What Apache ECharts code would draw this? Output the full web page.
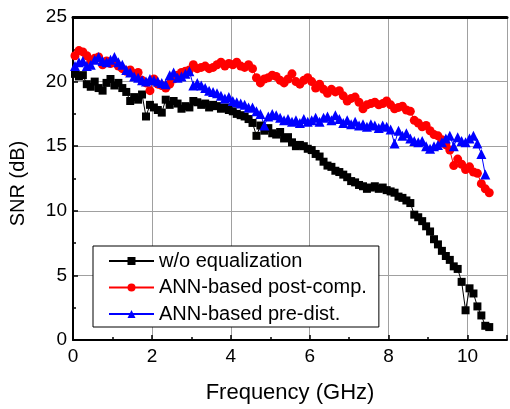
<!DOCTYPE html>
<html>
<head>
<meta charset="utf-8">
<script src="https://cdn.jsdelivr.net/npm/echarts@6/dist/echarts.min.js"></script>
<style>html,body{margin:0;padding:0;background:#fff}#c{width:510px;height:409px}</style>
</head>
<body>
<div id="c"></div>
<script>
const freq = [0.05,0.15,0.25,0.35,0.45,0.55,0.65,0.75,0.85,0.95,
1.05,1.15,1.25,1.35,1.45,1.55,1.65,1.75,1.85,1.95,
2.05,2.15,2.25,2.35,2.45,2.55,2.65,2.75,2.85,2.95,
3.05,3.15,3.25,3.35,3.45,3.55,3.65,3.75,3.85,3.95,
4.05,4.15,4.25,4.35,4.45,4.55,4.65,4.75,4.85,4.95,
5.05,5.15,5.25,5.35,5.45,5.55,5.65,5.75,5.85,5.95,
6.05,6.15,6.25,6.35,6.45,6.55,6.65,6.75,6.85,6.95,
7.05,7.15,7.25,7.35,7.45,7.55,7.65,7.75,7.85,7.95,
8.05,8.15,8.25,8.35,8.45,8.55,8.65,8.75,8.85,8.95,
9.05,9.15,9.25,9.35,9.45,9.55,9.65,9.75,9.85,9.95,
10.05,10.15,10.25,10.35,10.45,10.55];

const woEq = [20.6,20.4,20.5,19.8,19.6,20.0,19.5,19.3,19.9,20.2,
19.7,19.9,19.5,19.2,18.5,18.8,18.6,19.0,17.3,18.2,
18.0,17.8,17.6,18.6,18.2,18.5,18.3,17.9,18.1,18.0,
18.5,18.4,18.2,18.3,18.0,18.2,18.1,17.9,18.0,17.8,
17.7,17.5,17.4,17.3,17.1,16.8,15.8,16.6,16.2,16.4,
16.0,15.9,16.1,15.6,15.7,15.3,15.0,15.1,15.0,14.8,
14.7,14.4,14.2,13.8,13.5,13.4,13.1,13.0,12.8,12.6,
12.3,12.2,12.0,11.9,11.7,11.8,11.9,11.7,11.8,11.6,
11.5,11.4,11.1,11.0,10.8,10.6,9.7,9.5,9.2,8.8,
8.4,7.8,7.4,6.9,6.5,6.2,5.7,5.5,4.5,2.3,
4.0,3.6,2.6,1.9,1.1,1.0];

const postComp = [22.0,22.4,22.3,22.0,21.6,21.8,21.9,21.3,21.6,21.4,
21.5,21.2,21.0,20.8,20.9,20.6,20.7,20.1,19.9,19.3,
20.2,19.8,19.7,19.5,19.8,20.2,20.5,20.7,20.8,20.9,
21.3,21.0,21.1,21.2,21.0,21.1,21.3,21.5,21.2,21.4,
21.3,21.5,21.2,21.1,21.3,21.0,20.3,19.9,20.2,20.3,
20.5,20.4,20.1,19.9,20.2,20.6,20.0,19.8,20.1,20.3,
20.0,19.5,19.8,19.4,19.1,19.4,19.2,19.3,18.9,18.5,
18.7,18.8,18.4,17.9,18.2,18.3,18.4,18.2,18.3,18.5,
18.2,17.9,18.0,18.1,17.8,17.7,17.0,16.8,16.5,16.6,
16.2,15.9,15.8,15.5,15.1,14.7,13.5,14.0,13.6,13.2,
13.4,13.0,12.9,12.1,11.7,11.4];

const preDist = [21.2,21.5,21.6,21.2,21.3,21.7,21.9,21.6,21.5,21.7,
21.9,21.5,21.3,20.9,20.7,20.4,20.3,20.1,20.0,20.2,
20.1,20.0,19.9,19.8,20.5,20.7,20.3,20.4,20.6,20.8,
19.7,19.9,19.7,19.5,19.3,19.2,19.1,18.9,18.7,18.8,
18.5,18.4,18.3,18.2,18.0,18.0,17.7,17.5,16.6,17.3,
17.5,17.4,17.2,17.0,17.1,16.9,17.0,16.8,17.1,16.9,
17.0,17.2,16.9,17.2,17.3,17.0,17.4,17.1,16.8,17.0,
16.7,16.9,16.6,16.7,16.5,16.7,16.6,16.4,16.6,16.5,
16.3,15.2,16.2,15.8,16.0,15.6,15.4,15.3,15.4,15.0,
14.8,15.0,15.1,15.3,15.6,15.8,15.0,15.7,15.4,15.3,
15.6,15.8,15.2,14.4,12.8];

const seriesNames = ['w/o equalization','ANN-based post-comp.','ANN-based pre-dist.'];
const xTicks = [0,2,4,6,8,10];
const yTicks = [0,5,10,15,20,25];

const pairs = (ys) => ys.map((v,i) => [freq[i], v]);
const FONT = "'Liberation Sans', Arial, sans-serif";

const chart = echarts.init(document.getElementById('c'), null, {renderer:'canvas'});
chart.setOption({
  animation:false,
  backgroundColor:'#fff',
  textStyle:{fontFamily:FONT},
  grid:{left:72, top:17, width:440, height:324.5, containLabel:false},
  legend:{
    orient:'vertical', left:93, top:246,
    padding:[4,12,2,15], itemGap:4.5,
    itemWidth:45, itemHeight:10,
    borderColor:'#000', borderWidth:1, backgroundColor:'#fff',
    textStyle:{fontFamily:FONT, fontSize:20, color:'#000', lineHeight:22},
    data:seriesNames
  },
  xAxis:[{
    type:'value', min:0, max:11, interval:2,
    name:'Frequency (GHz)', nameLocation:'middle', nameGap:42,
    nameTextStyle:{fontFamily:FONT, fontSize:22, color:'#000'},
    axisLine:{show:true, lineStyle:{color:'#000', width:2}},
    axisTick:{show:true, inside:true, length:5, lineStyle:{color:'#000', width:1.5}},
    minorTick:{show:true, splitNumber:2, length:3, lineStyle:{color:'#000', width:1.5}},
    axisLabel:{fontFamily:FONT, fontSize:19, color:'#000', margin:7,
      formatter:(v)=> xTicks.indexOf(v) >= 0 ? String(v) : ''},
    splitLine:{show:true, lineStyle:{color:'#a0a0a0', width:1}}
  },{
    type:'value', min:0, max:11, position:'top',
    axisLine:{show:true, lineStyle:{color:'#000', width:3}},
    axisTick:{show:false}, axisLabel:{show:false}, splitLine:{show:false}
  }],
  yAxis:{
    type:'value', min:0, max:25, interval:5,
    name:'SNR (dB)', nameLocation:'middle', nameGap:45,
    nameTextStyle:{fontFamily:FONT, fontSize:20, color:'#000', padding:[0,10,0,0]},
    axisLine:{show:true, lineStyle:{color:'#000', width:2}},
    axisTick:{show:true, inside:true, length:5, lineStyle:{color:'#000', width:1.5}},
    minorTick:{show:true, splitNumber:2, length:3, lineStyle:{color:'#000', width:1.5}},
    axisLabel:{fontFamily:FONT, fontSize:19, color:'#000', margin:6,
      formatter:(v)=> yTicks.indexOf(v) >= 0 ? String(v) : ''},
    splitLine:{show:true, lineStyle:{color:'#a0a0a0', width:1}}
  },
  series:[
    {name:seriesNames[0], type:'line', data:pairs(woEq), symbol:'rect', symbolSize:8,
     showAllSymbol:true, itemStyle:{color:'#000'}, lineStyle:{color:'#000', width:1}},
    {name:seriesNames[1], type:'line', data:pairs(postComp), symbol:'circle', symbolSize:9,
     showAllSymbol:true, itemStyle:{color:'#ff0000'}, lineStyle:{color:'#ff0000', width:1}},
    {name:seriesNames[2], type:'line', data:pairs(preDist), symbol:'triangle', symbolSize:10,
     showAllSymbol:true, itemStyle:{color:'#0000ff'}, lineStyle:{color:'#0000ff', width:1}}
  ]
});
</script>
</body>
</html>
